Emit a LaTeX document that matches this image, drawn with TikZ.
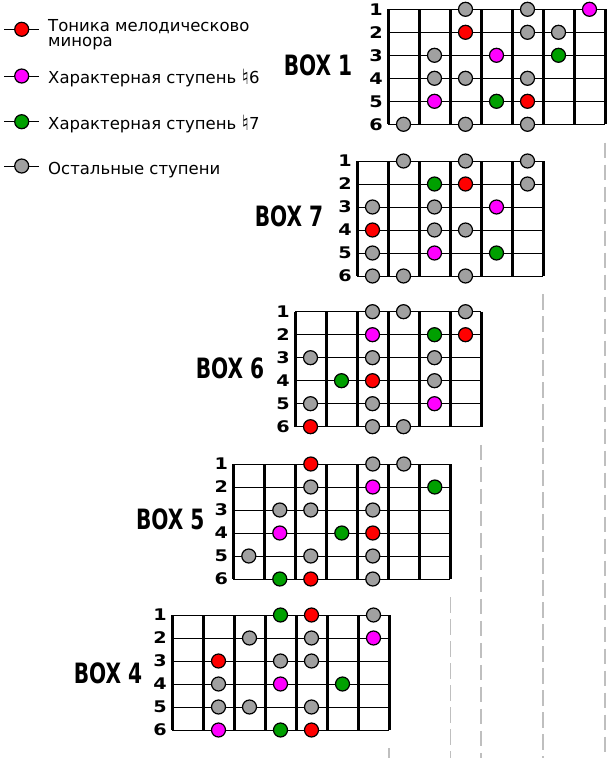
\documentclass[tikz,border=0pt]{standalone}
\usepackage{fontspec}
\setmainfont{DejaVu Sans}
\newfontfamily\BoxFont{DejaVu Sans}[FakeStretch=0.72]
\newfontfamily\NumFont{DejaVu Sans}[FakeStretch=1.2]
\usepackage{tikz}
\definecolor{Tonic}{RGB}{255,0,0}
\definecolor{Sixth}{RGB}{255,0,255}
\definecolor{Seventh}{RGB}{0,160,0}
\definecolor{Other}{RGB}{160,160,160}
\newcommand{\Natural}{\raisebox{-1.5pt}{\fontsize{21}{21}\selectfont ♮}}

\begin{document}
\begin{tikzpicture}[x=1pt,y=-1pt]
  \tikzset{
    Tone/.style={circle,draw=black,line width=1.2pt,minimum size=14pt,inner sep=0pt},
    Fret/.style={line width=3pt},
    String/.style={line width=0.9pt},
    Guide/.style={draw=gray!50,line width=1.2pt,dash pattern=on 15.5pt off 6.5pt},
    StrNum/.style={font=\NumFont\bfseries\fontsize{16}{16}\selectfont,inner sep=0pt},
    BoxName/.style={font=\BoxFont\bfseries\fontsize{28}{28}\selectfont,inner sep=0pt},
    LegendText/.style={anchor=base west,inner sep=0pt,font=\fontsize{16.5}{16.5}\selectfont}
  }
  \useasboundingbox (0,0) rectangle (606,758);
  \coordinate (Bottom) at (0,758);

  % legend
  \node[Tone,fill=Tonic] (leg_t) at (21.7,29.3) {};
  \draw[line width=1pt] (leg_t.west) -- +(-10,0) (leg_t.east) -- +(10,0);
  \node[LegendText] (leg_t_a) at (48,31.7) {Тоника мелодическово};
  \node[LegendText] (leg_t_b) at (48,46.7) {минора};
  \node[Tone,fill=Sixth] (leg_6) at (21.7,76) {};
  \draw[line width=1pt] (leg_6.west) -- +(-10,0) (leg_6.east) -- +(10,0);
  \node[LegendText] (leg_6_a) at (48,83.3) {Характерная ступень \Natural6};
  \node[Tone,fill=Seventh] (leg_7) at (21.7,121.7) {};
  \draw[line width=1pt] (leg_7.west) -- +(-10,0) (leg_7.east) -- +(10,0);
  \node[LegendText] (leg_7_a) at (48,129.3) {Характерная ступень \Natural7};
  \node[Tone,fill=Other] (leg_o) at (21.7,166) {};
  \draw[line width=1pt] (leg_o.west) -- +(-10,0) (leg_o.east) -- +(10,0);
  \node[LegendText] (leg_o_a) at (48,174) {Остальные ступени};

  % BOX 1
  \begin{scope}[shift={(388,9.3)}]
    \foreach \f in {0,...,7} \draw[Fret] (31*\f,0) -- (31*\f,115);
    \foreach \s in {1,...,6} {
      \draw[String] (0,{23*(\s-1)}) -- (217,{23*(\s-1)});
      \node[StrNum] (b1_n\s) at (-12,{23*(\s-1)}) {\s};
    }
    \node[BoxName] (box1) at (-70,55.7) {BOX 1};
    \foreach \s/\j/\c in {1/3/Other,1/5/Other,1/7/Sixth,2/3/Tonic,2/5/Other,2/6/Other,
        3/2/Other,3/4/Sixth,3/6/Seventh,4/2/Other,4/3/Other,4/5/Other,
        5/2/Sixth,5/4/Seventh,5/5/Tonic,6/1/Other,6/3/Other,6/5/Other}
      \node[Tone,fill=\c] (b1_\s_\j) at ({31*(\j-0.5)},{23*(\s-1)}) {};
    \coordinate (b1_end) at (217,133.2);
  \end{scope}

  % BOX 7
  \begin{scope}[shift={(357,161)}]
    \foreach \f in {0,...,6} \draw[Fret] (31*\f,0) -- (31*\f,115);
    \foreach \s in {1,...,6} {
      \draw[String] (0,{23*(\s-1)}) -- (186,{23*(\s-1)});
      \node[StrNum] (b7_n\s) at (-12,{23*(\s-1)}) {\s};
    }
    \node[BoxName] (box7) at (-68,55.7) {BOX 7};
    \foreach \s/\j/\c in {1/2/Other,1/4/Other,1/6/Other,2/3/Seventh,2/4/Tonic,2/6/Other,
        3/1/Other,3/3/Other,3/5/Sixth,4/1/Tonic,4/3/Other,4/4/Other,
        5/1/Other,5/3/Sixth,5/5/Seventh,6/1/Other,6/2/Other,6/4/Other}
      \node[Tone,fill=\c] (b7_\s_\j) at ({31*(\j-0.5)},{23*(\s-1)}) {};
    \coordinate (b7_end) at (186,133.2);
  \end{scope}

  % BOX 6
  \begin{scope}[shift={(295,311.7)}]
    \foreach \f in {0,...,6} \draw[Fret] (31*\f,0) -- (31*\f,115);
    \foreach \s in {1,...,6} {
      \draw[String] (0,{23*(\s-1)}) -- (186,{23*(\s-1)});
      \node[StrNum] (b6_n\s) at (-12,{23*(\s-1)}) {\s};
    }
    \node[BoxName] (box6) at (-65,56.3) {BOX 6};
    \foreach \s/\j/\c in {1/3/Other,1/4/Other,1/6/Other,2/3/Sixth,2/5/Seventh,2/6/Tonic,
        3/1/Other,3/3/Other,3/5/Other,4/2/Seventh,4/3/Tonic,4/5/Other,
        5/1/Other,5/3/Other,5/5/Sixth,6/1/Tonic,6/3/Other,6/4/Other}
      \node[Tone,fill=\c] (b6_\s_\j) at ({31*(\j-0.5)},{23*(\s-1)}) {};
    \coordinate (b6_end) at (186,133.2);
  \end{scope}

  % BOX 5
  \begin{scope}[shift={(233.3,464)}]
    \foreach \f in {0,...,7} \draw[Fret] (31*\f,0) -- (31*\f,115);
    \foreach \s in {1,...,6} {
      \draw[String] (0,{23*(\s-1)}) -- (217,{23*(\s-1)});
      \node[StrNum] (b5_n\s) at (-12,{23*(\s-1)}) {\s};
    }
    \node[BoxName] (box5) at (-63,55) {BOX 5};
    \foreach \s/\j/\c in {1/3/Tonic,1/5/Other,1/6/Other,2/3/Other,2/5/Sixth,2/7/Seventh,
        3/2/Other,3/3/Other,3/5/Other,4/2/Sixth,4/4/Seventh,4/5/Tonic,
        5/1/Other,5/3/Other,5/5/Other,6/2/Seventh,6/3/Tonic,6/5/Other}
      \node[Tone,fill=\c] (b5_\s_\j) at ({31*(\j-0.5)},{23*(\s-1)}) {};
    \coordinate (b5_end) at (217,133.2);
  \end{scope}

  % BOX 4
  \begin{scope}[shift={(172,615)}]
    \foreach \f in {0,...,7} \draw[Fret] (31*\f,0) -- (31*\f,115);
    \foreach \s in {1,...,6} {
      \draw[String] (0,{23*(\s-1)}) -- (217,{23*(\s-1)});
      \node[StrNum] (b4_n\s) at (-12,{23*(\s-1)}) {\s};
    }
    \node[BoxName] (box4) at (-64,58) {BOX 4};
    \foreach \s/\j/\c in {1/4/Seventh,1/5/Tonic,1/7/Other,2/3/Other,2/5/Other,2/7/Sixth,
        3/2/Tonic,3/4/Other,3/5/Other,4/2/Other,4/4/Sixth,4/6/Seventh,
        5/2/Other,5/3/Other,5/5/Other,6/2/Sixth,6/4/Seventh,6/5/Tonic}
      \node[Tone,fill=\c] (b4_\s_\j) at ({31*(\j-0.5)},{23*(\s-1)}) {};
    \coordinate (b4_end) at (217,133.2);
  \end{scope}

  % guides below each box
  \foreach \b in {b1,b7,b6,b5,b4}
    \draw[Guide] (\b_end) -- (\b_end |- Bottom);
\end{tikzpicture}
\end{document}
